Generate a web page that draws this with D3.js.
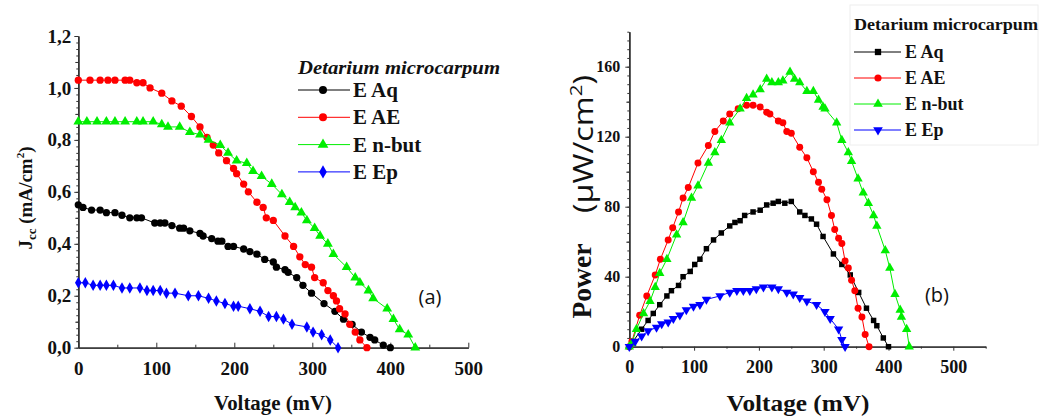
<!DOCTYPE html>
<html>
<head>
<meta charset="utf-8">
<script src="https://cdn.jsdelivr.net/npm/d3@7"></script>
<style>
  body { margin: 0; background: #fff; }
</style>
</head>
<body>
<div id="chart"></div>
<script>
// ---- (a) current density vs voltage ----
const jAqV = [0,6,17,28,36,47,56,66,75,81,98,105,111,120,130,135,143,156,160,171,179,184,192,199,212,220,229,239,250,254,265,269,280,288,299,315,329,340,351,363,374,380,391,400];
const jAqJ = [0.55,0.54,0.53,0.53,0.52,0.52,0.51,0.50,0.50,0.50,0.48,0.48,0.48,0.47,0.46,0.46,0.45,0.44,0.43,0.42,0.41,0.41,0.39,0.39,0.38,0.37,0.36,0.34,0.33,0.31,0.30,0.29,0.27,0.24,0.21,0.17,0.14,0.11,0.09,0.06,0.04,0.03,0.01,0.0];

const jAeV = [0,15,28,38,47,60,66,75,83,92,107,120,132,145,156,165,173,180,190,199,203,212,218,229,237,241,250,265,276,284,291,299,303,314,320,327,331,335,342,348,355,361,370];
const jAeJ = [1.03,1.03,1.03,1.03,1.03,1.03,1.03,1.02,1.02,1.00,0.98,0.95,0.93,0.89,0.85,0.81,0.78,0.75,0.72,0.69,0.67,0.63,0.60,0.56,0.54,0.50,0.49,0.43,0.39,0.35,0.32,0.31,0.27,0.25,0.22,0.20,0.18,0.15,0.13,0.09,0.06,0.03,0.0];

const jNbV = [0,11,24,36,47,60,75,83,96,107,115,130,143,156,167,182,192,203,216,224,235,248,261,271,278,286,293,303,310,320,327,344,355,361,372,378,396,404,412,423,432];
const jNbJ = [0.87,0.87,0.87,0.87,0.87,0.87,0.87,0.87,0.87,0.86,0.85,0.85,0.83,0.82,0.80,0.78,0.75,0.72,0.71,0.68,0.66,0.63,0.59,0.56,0.54,0.52,0.49,0.46,0.43,0.40,0.36,0.31,0.27,0.25,0.22,0.19,0.15,0.11,0.07,0.05,0.0];

const jEpV = [0,9,19,28,36,45,56,66,79,88,96,105,113,124,141,154,167,177,188,199,205,220,233,244,254,263,274,293,301,312,323,333];
const jEpJ = [0.25,0.25,0.24,0.24,0.24,0.24,0.23,0.23,0.23,0.22,0.22,0.22,0.21,0.21,0.20,0.20,0.19,0.18,0.17,0.16,0.16,0.15,0.14,0.12,0.12,0.11,0.09,0.08,0.06,0.05,0.03,0.0];

// ---- (b) power vs voltage ----
const pAqV = [0,4,19,29,37,47,58,65,76,83,94,101,109,119,130,142,155,163,171,178,191,202,212,222,230,240,250,263,271,281,289,299,315,328,341,354,366,377,382,392,400];
const pAqP = [0,2,10,15,19,24,29,32,35,40,43,47,50,56,61,65,69,71,72,75,77,78,81,82,83,82,83,77,75,73,70,63,53,47,41,31,22,15,12,5,0];

const pAeV = [0,4,16,27,40,48,60,67,76,83,91,106,122,132,145,155,168,181,191,202,212,217,230,237,243,250,263,274,284,292,297,305,312,317,323,328,333,338,343,348,353,359,364,370];
const pAeP = [0,3,18,29,41,50,61,68,77,85,91,105,115,123,129,133,136,138,138,137,134,133,129,128,123,122,114,108,100,94,90,84,75,67,62,59,49,45,38,32,22,17,7,0];

const pNbV = [0,4,11,22,32,40,47,58,73,83,96,106,122,132,142,155,171,181,191,202,212,220,230,237,248,255,263,274,284,292,299,302,320,328,338,343,353,361,369,377,382,395,402,410,418,420,428,432];
const pNbP = [0,2,10,19,26,34,42,50,64,71,85,92,105,111,118,128,136,142,144,147,153,151,151,152,157,153,151,146,146,141,137,136,128,118,111,106,96,88,82,75,69,55,45,30,21,17,10,0];

const pEpV = [0,9,19,29,42,50,60,68,78,88,99,109,119,140,155,166,176,186,196,207,220,230,243,253,263,274,289,302,310,323,328,333];
const pEpP = [0,3,6,9,11,13,14,16,18,21,23,24,27,29,31,32,32,32,33,34,34,33,31,30,28,26,24,20,16,10,4,0];

const seriesNames = ["E Aq", "E AE", "E n-but", "E Ep"];
const seriesColors = ["#000000", "#ff0000", "#00ee00", "#0000ff"];
const yTicksA = [0, 0.2, 0.4, 0.6, 0.8, 1.0, 1.2];
const yTicksB = [0, 40, 80, 120, 160];
const xTicks = [0, 100, 200, 300, 400, 500];

const SERIF = "'Liberation Serif', 'Times New Roman', Times, serif";
const SANS = "'Open Sans', 'Noto Sans', sans-serif";

const width = 1039, height = 418;
const svg = d3.select("#chart").append("svg")
  .attr("width", width).attr("height", height)
  .attr("font-family", SERIF);

function drawSeries(g, x, y, xs, ys, color, symType, size, rot) {
  const pts = xs.map((v, i) => [v, ys[i]]);
  g.append("path").datum(pts)
    .attr("fill", "none").attr("stroke", color).attr("stroke-width", 1)
    .attr("d", d3.line().x(d => x(d[0])).y(d => y(d[1])));
  g.selectAll(null).data(pts).enter().append("path")
    .attr("transform", d => `translate(${x(d[0])},${y(d[1])}) rotate(${rot})`)
    .attr("d", d3.symbol().type(symType).size(size))
    .attr("fill", color);
}

function styleAxis(g, fs) {
  g.attr("font-family", SERIF).attr("font-weight", "bold");
  g.selectAll("path.domain").attr("stroke", "#333").attr("stroke-width", 1.2);
  g.selectAll(".tick line").attr("stroke", "#333");
  g.selectAll("text").attr("font-size", fs).attr("fill", "#111")
    .style("font-family", SERIF).style("font-weight", "bold");
}

function serifText(g, x, y, fs, txt) {
  return g.append("text").attr("x", x).attr("y", y).attr("font-size", fs)
    .style("font-family", SERIF).style("font-weight", "bold").attr("fill", "#111").text(txt);
}

// ================= panel (a) =================
const xA = d3.scaleLinear().domain([0, 500]).range([78.3, 468.3]);
const yA = d3.scaleLinear().domain([0, 1.2]).range([347.7, 36]);
const gA = svg.append("g");

// minor ticks
gA.append("g").attr("transform", `translate(0,${yA(0)})`)
  .call(d3.axisBottom(xA).tickValues(d3.range(50, 500, 100)).tickSize(-3).tickFormat("").tickSizeOuter(0))
  .call(styleAxis, 0);
gA.append("g").attr("transform", `translate(${xA(0)},0)`)
  .call(d3.axisLeft(yA).tickValues(d3.range(0, 1.2001, 0.025)).tickSize(2).tickFormat("").tickSizeOuter(0))
  .call(styleAxis, 0);
gA.append("g").attr("transform", `translate(${xA(0)},0)`)
  .call(d3.axisLeft(yA).tickValues(d3.range(0.1, 1.2, 0.2)).tickSize(3).tickFormat("").tickSizeOuter(0))
  .call(styleAxis, 0);

gA.append("g").attr("transform", `translate(0,${yA(0)})`)
  .call(d3.axisBottom(xA).tickValues(xTicks).tickSize(-5).tickPadding(14).tickSizeOuter(0))
  .call(styleAxis, 19);
gA.append("g").attr("transform", `translate(${xA(0)},0)`)
  .call(d3.axisLeft(yA).tickValues(yTicksA).tickSize(4).tickPadding(3).tickSizeOuter(0)
    .tickFormat(d => d3.format(".1f")(d).replace(".", ",")))
  .call(styleAxis, 19);

const symA = [d3.symbolCircle, d3.symbolCircle, d3.symbolTriangle, d3.symbolDiamond];
const dataA = [[jAqV, jAqJ], [jAeV, jAeJ], [jNbV, jNbJ], [jEpV, jEpJ]];
dataA.forEach((s, i) => drawSeries(gA, xA, yA, s[0], s[1], seriesColors[i], symA[i], i === 3 ? 38 : 42, 0));

serifText(gA, 273, 410, 20, "Voltage (mV)").attr("text-anchor", "middle")
  .attr("textLength", 118).attr("lengthAdjust", "spacingAndGlyphs");
const ylA = serifText(gA, 0, 0, 19, null).attr("transform", "translate(32,198) rotate(-90)")
  .attr("text-anchor", "middle");
ylA.append("tspan").text("J");
ylA.append("tspan").attr("font-size", 13).attr("dy", 4).text("cc");
ylA.append("tspan").attr("dy", -4).text(" (mA/cm");
ylA.append("tspan").attr("font-size", 11).attr("dy", -8).text("2");
ylA.append("tspan").attr("dy", 8).text(")");

gA.append("text").style("font-family", SANS).attr("x", 430).attr("y", 304)
  .attr("text-anchor", "middle").attr("font-size", 20).attr("fill", "#111").text("(a)");

// legend (a)
const legA = gA.append("g");
serifText(legA, 298, 74, 18, "Detarium microcarpum").style("font-style", "italic")
  .attr("textLength", 202).attr("lengthAdjust", "spacingAndGlyphs");
seriesNames.forEach((name, i) => {
  const cy = 90 + i * 27.3;
  legA.append("line").attr("x1", 298).attr("x2", 350).attr("y1", cy).attr("y2", cy)
    .attr("stroke", seriesColors[i]).attr("stroke-width", 1);
  legA.append("path").attr("transform", `translate(323,${cy})`)
    .attr("d", d3.symbol().type(symA[i]).size(50)).attr("fill", seriesColors[i]);
  serifText(legA, 353, cy + 7, 21, name);
});

// ================= panel (b) =================
const xB = d3.scaleLinear().domain([0, 550]).range([629.3, 629.3 + 0.648 * 550]);
const yB = d3.scaleLinear().domain([0, 180]).range([346.7, 31.7]);
const gB = svg.append("g");

// legend box
gB.append("rect").attr("x", 850).attr("y", 5).attr("width", 188).attr("height", 140)
  .attr("fill", "none").attr("stroke", "#eeeeee");

gB.append("g").attr("transform", `translate(0,${yB(0)})`)
  .call(d3.axisBottom(xB).tickValues(d3.range(50, 551, 100)).tickSize(2).tickFormat("").tickSizeOuter(0))
  .call(styleAxis, 0);
gB.append("g").attr("transform", `translate(${xB(0)},0)`)
  .call(d3.axisLeft(yB).tickValues(d3.range(0, 180.1, 5)).tickSize(2).tickFormat("").tickSizeOuter(0))
  .call(styleAxis, 0);
gB.append("g").attr("transform", `translate(${xB(0)},0)`)
  .call(d3.axisLeft(yB).tickValues(d3.range(20, 180, 40)).tickSize(3).tickFormat("").tickSizeOuter(0))
  .call(styleAxis, 0);

gB.append("g").attr("transform", `translate(0,${yB(0)})`)
  .call(d3.axisBottom(xB).tickValues(xTicks).tickSize(4).tickPadding(10).tickSizeOuter(0))
  .call(styleAxis, 18);
gB.append("g").attr("transform", `translate(${xB(0)},0)`)
  .call(d3.axisLeft(yB).tickValues(yTicksB).tickSize(4).tickPadding(5).tickSizeOuter(0))
  .call(styleAxis, 16);

const symB = [d3.symbolSquare, d3.symbolCircle, d3.symbolTriangle, d3.symbolTriangle];
const rotB = [0, 0, 0, 180];
const dataB = [[pAqV, pAqP], [pAeV, pAeP], [pNbV, pNbP], [pEpV, pEpP]];
dataB.forEach((s, i) => drawSeries(gB, xB, yB, s[0], s[1], seriesColors[i], symB[i], i === 0 ? 30 : 38, rotB[i]));

serifText(gB, 798, 411, 24, "Voltage (mV)").attr("text-anchor", "middle")
  .attr("textLength", 143).attr("lengthAdjust", "spacingAndGlyphs");
serifText(gB, 0, 0, 27, "Power").attr("transform", "translate(591,281) rotate(-90)")
  .attr("text-anchor", "middle").attr("textLength", 75).attr("lengthAdjust", "spacingAndGlyphs");
const ylB = gB.append("text").style("font-family", SANS).attr("fill", "#111")
  .attr("transform", "translate(593,144) rotate(-90)")
  .attr("text-anchor", "middle").attr("font-size", 27)
  .attr("textLength", 138).attr("lengthAdjust", "spacingAndGlyphs");
ylB.append("tspan").text("(\u00b5W/cm");
ylB.append("tspan").attr("font-size", 17).attr("dy", -11).text("2");
ylB.append("tspan").attr("dy", 11).text(")");

gB.append("text").style("font-family", SANS).attr("x", 937).attr("y", 302)
  .attr("text-anchor", "middle").attr("font-size", 20).attr("fill", "#111").text("(b)");

// legend (b)
const legB = gB.append("g");
serifText(legB, 854, 30, 16, "Detarium microcarpum")
  .attr("textLength", 184).attr("lengthAdjust", "spacingAndGlyphs");
seriesNames.forEach((name, i) => {
  const cy = 52 + i * 26;
  legB.append("line").attr("x1", 854).attr("x2", 901).attr("y1", cy).attr("y2", cy)
    .attr("stroke", seriesColors[i]).attr("stroke-width", 1);
  legB.append("path").attr("transform", `translate(878,${cy}) rotate(${rotB[i]})`)
    .attr("d", d3.symbol().type(symB[i]).size(40)).attr("fill", seriesColors[i]);
  serifText(legB, 905, cy + 6, 18, name);
});
</script>
</body>
</html>
